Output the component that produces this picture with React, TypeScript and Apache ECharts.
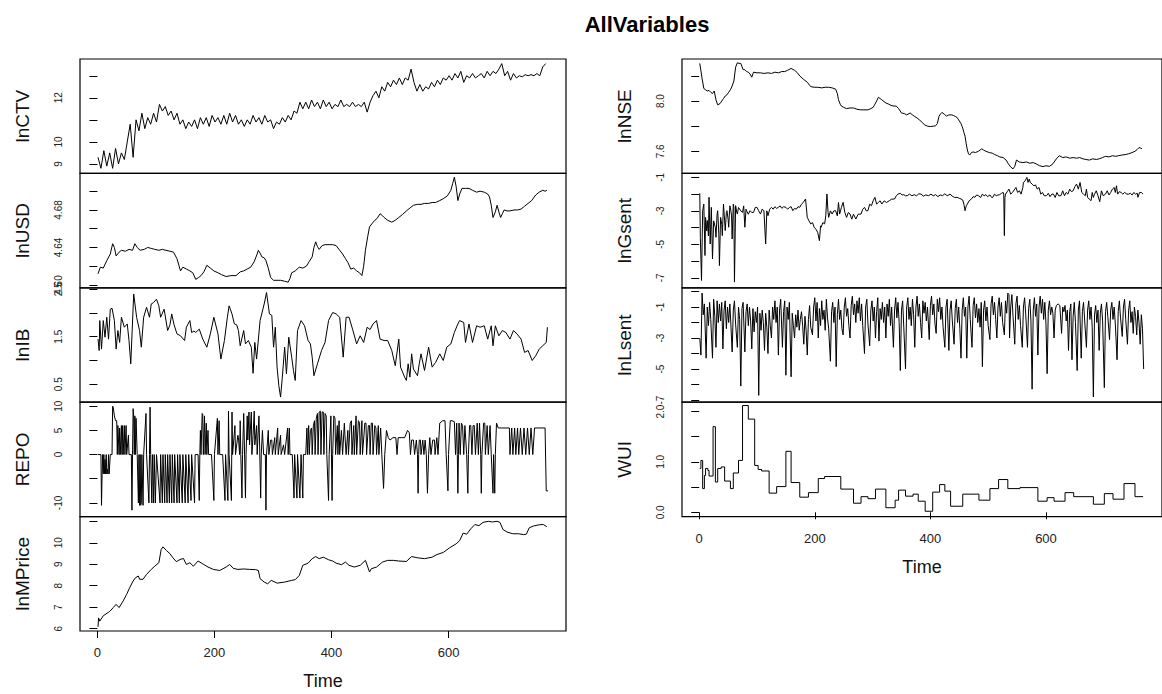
import React, { useEffect, useRef } from "react";
import * as echarts from "echarts";

const FONT = "'Liberation Sans', Arial, Helvetica, sans-serif";
const X_TICKS = [0, 200, 400, 600];
const X_MIN = -29.76;
const X_MAX = 800.76;

// lnCTV sampled every 5 time units starting at t = 1
const lnCTVValues = [
  9.3, 8.8, 9.6, 8.9, 9.5, 8.8, 9.7, 9.0, 9.5, 9.2,
  10.0, 10.8, 9.3, 11.0, 10.5, 11.3, 10.6, 11.1, 10.8, 11.3,
  10.9, 11.7, 11.4, 11.6, 11.2, 11.4, 11.0, 11.3, 10.8, 11.0,
  10.6, 10.9, 10.7, 11.0, 10.6, 11.1, 10.8, 11.1, 10.7, 11.2,
  10.9, 11.1, 10.8, 11.2, 10.8, 11.3, 10.9, 11.2, 10.8, 11.0,
  10.7, 11.0, 10.8, 11.2, 10.9, 11.1, 10.8, 11.2, 10.9, 11.0,
  10.6, 10.9, 10.8, 11.1, 10.9, 11.2, 11.0, 11.4, 11.3, 11.8,
  11.5, 11.8, 11.5, 11.9, 11.6, 11.8, 11.5, 11.9, 11.6, 11.8,
  11.5, 11.7, 11.6, 11.9, 11.6, 11.7, 11.6, 11.8, 11.6, 11.7,
  11.6, 11.8, 11.35, 11.8, 12.1, 12.3, 12.0, 12.5, 12.3, 12.7,
  12.5, 12.8, 12.6, 12.9, 12.6, 12.9, 12.8, 13.3, 12.7, 12.3,
  12.6, 12.3, 12.5, 12.4, 12.7, 12.5, 12.8, 12.6, 12.9, 12.8,
  13.0, 12.8, 13.1, 12.9, 13.2, 12.7, 13.0, 12.9, 13.1, 12.9,
  13.0, 13.1, 12.9, 13.2, 13.0, 13.2, 13.1, 13.3, 13.55, 13.0,
  13.2, 12.8, 13.1, 12.9, 13.0, 12.95, 13.05, 13.0, 13.05, 13.0,
  13.1, 13.0, 13.4, 13.55,
];
const lnCTVStart = 1;
const lnCTVStep = 5;

const lnUSD: [number, number][] = [
  [1, 4.612], [5, 4.619], [10, 4.618], [16, 4.626], [22, 4.633], [26, 4.644], [29, 4.640], [32, 4.631],
  [37, 4.635], [41, 4.637], [48, 4.636], [54, 4.638], [60, 4.637], [64, 4.644], [68, 4.640], [73, 4.637],
  [80, 4.638], [86, 4.640], [92, 4.639], [98, 4.638], [105, 4.637], [111, 4.638], [117, 4.637], [124, 4.636],
  [130, 4.635], [136, 4.628], [142, 4.615], [146, 4.619], [152, 4.617], [158, 4.615], [163, 4.613], [168, 4.606],
  [173, 4.608], [177, 4.610], [182, 4.614], [187, 4.621], [193, 4.618], [199, 4.615], [206, 4.613], [212, 4.611],
  [220, 4.609], [228, 4.610], [237, 4.610], [244, 4.614], [250, 4.615], [256, 4.617], [262, 4.619], [268, 4.625],
  [273, 4.633], [275, 4.637], [278, 4.634], [281, 4.630], [285, 4.629], [288, 4.626], [292, 4.618], [296, 4.608],
  [301, 4.605], [307, 4.605], [313, 4.605], [320, 4.604], [326, 4.603], [329, 4.607], [332, 4.613], [338, 4.615],
  [345, 4.619], [351, 4.618], [357, 4.620], [362, 4.625], [367, 4.630], [370, 4.640], [373, 4.646], [376, 4.641],
  [379, 4.638], [384, 4.642], [389, 4.643], [396, 4.643], [402, 4.643], [408, 4.642], [414, 4.637], [419, 4.633],
  [424, 4.628], [428, 4.624], [433, 4.617], [438, 4.618], [443, 4.615], [448, 4.613], [452, 4.610], [455, 4.620],
  [458, 4.637], [462, 4.652], [465, 4.662], [470, 4.666], [474, 4.669], [478, 4.671], [483, 4.676], [487, 4.674],
  [490, 4.672], [496, 4.669], [503, 4.667], [509, 4.669], [515, 4.672], [521, 4.675], [528, 4.679], [534, 4.682],
  [540, 4.685], [547, 4.686], [553, 4.686], [559, 4.687], [566, 4.687], [572, 4.688], [578, 4.688], [585, 4.690],
  [591, 4.692], [598, 4.695], [604, 4.701], [607, 4.708], [610, 4.715], [613, 4.705], [616, 4.690], [619, 4.697],
  [623, 4.703], [629, 4.703], [635, 4.703], [641, 4.701], [648, 4.699], [654, 4.700], [661, 4.699], [667, 4.697],
  [670, 4.694], [673, 4.685], [676, 4.672], [680, 4.678], [683, 4.685], [686, 4.678], [689, 4.672], [692, 4.676],
  [695, 4.680], [700, 4.679], [705, 4.679], [712, 4.680], [718, 4.680], [724, 4.681], [730, 4.684], [736, 4.687],
  [742, 4.690], [749, 4.696], [755, 4.699], [761, 4.701], [765, 4.700], [768, 4.701],
];

const lnIB: [number, number][] = [
  [1, 1.45], [3, 1.21], [4, 1.84], [7, 1.24], [10, 1.84], [13, 1.49], [16, 1.91], [19, 1.45], [22, 2.08],
  [25, 2.1], [29, 1.84], [32, 1.24], [35, 1.63], [38, 1.38], [41, 1.91], [46, 1.70], [51, 1.77], [54, 1.42],
  [57, 0.93], [62, 2.40], [67, 1.91], [72, 1.63], [75, 1.28], [79, 1.91], [84, 2.12], [89, 1.91], [92, 2.19],
  [96, 2.22], [101, 2.29], [105, 2.15], [108, 1.91], [114, 2.08], [120, 1.63], [124, 1.75], [127, 1.98],
  [131, 1.75], [136, 1.56], [142, 1.52], [149, 1.42], [152, 1.70], [158, 1.84], [161, 1.59], [165, 1.62],
  [168, 1.59], [174, 1.66], [180, 1.45], [187, 1.28], [193, 1.56], [199, 1.91], [206, 1.56], [211, 1.03],
  [217, 1.42], [222, 1.90], [225, 2.15], [230, 1.98], [234, 1.77], [238, 1.75], [241, 1.63], [244, 1.31],
  [250, 1.63], [253, 1.35], [258, 1.42], [263, 1.28], [266, 0.73], [269, 1.38], [272, 1.03], [278, 1.84],
  [285, 2.19], [289, 2.43], [294, 1.98], [298, 1.95], [301, 1.28], [304, 1.70], [307, 0.86], [310, 0.47],
  [313, 0.23], [316, 0.65], [320, 1.28], [323, 0.72], [327, 1.49], [332, 1.07], [335, 0.79], [338, 0.58],
  [342, 1.63], [348, 1.84], [354, 1.73], [360, 1.42], [364, 1.35], [367, 1.07], [370, 0.68], [376, 0.93],
  [383, 1.21], [389, 1.38], [395, 1.84], [402, 2.01], [408, 1.98], [414, 1.91], [420, 1.07], [425, 1.91],
  [430, 1.91], [436, 1.66], [443, 1.35], [449, 1.52], [455, 1.38], [461, 1.70], [466, 1.65], [471, 1.77],
  [477, 1.84], [483, 1.45], [490, 1.42], [496, 1.42], [503, 1.21], [509, 0.89], [515, 1.45], [518, 0.86],
  [525, 0.65], [528, 0.58], [531, 0.93], [534, 0.65], [537, 1.14], [540, 0.82], [547, 0.68], [550, 0.93],
  [553, 1.14], [559, 0.79], [566, 1.28], [572, 0.86], [578, 0.96], [585, 1.14], [591, 1.0], [597, 1.28],
  [604, 1.35], [610, 1.59], [616, 1.77], [619, 1.84], [626, 1.80], [629, 1.38], [635, 1.77], [641, 1.38],
  [648, 1.73], [654, 1.70], [661, 1.73], [667, 1.45], [673, 1.73], [676, 1.31], [680, 1.73], [686, 1.52],
  [692, 1.63], [698, 1.59], [705, 1.45], [711, 1.63], [717, 1.56], [724, 1.45], [730, 1.17], [736, 1.21],
  [743, 1.00], [749, 1.10], [755, 1.24], [761, 1.31], [767, 1.38], [769, 1.70],
];

const repo: [number, number][] = [
  [1, 0], [6, 0], [7, -10.5], [8, -4], [9, 0], [10, -4], [11, 0], [12, -4], [13, -1], [14, -4], [15, 0],
  [16, -4], [17, -3], [18, -4], [19, 0], [20, -4], [21, -4], [22, 0], [25, 0], [26, 10], [27, 9.8], [29, 8],
  [31, 7], [33, 7], [34, 0], [35, 6], [36, 6], [37, 0], [38, 5.5], [39, 0], [41, 6], [42, 0], [43, 6], [44, 0],
  [46, 6], [47, 0], [49, 6], [50, 0], [53, 4], [54, 0], [58, 0], [59, -11.5], [60, 0], [61, 9.5], [62, 8],
  [63, 0], [64, 8], [65, 0], [66, 7.5], [67, 7.5], [68, 0], [70, -10], [71, 0], [72, -10.5], [73, 0],
  [74, -10.5], [75, -10], [76, 0], [78, -10.5], [79, 0], [83, 8.5], [84, 0], [88, -10], [89, 0], [90, 9.8],
  [91, 0], [93, -10], [94, 0], [96, -10], [97, 0], [99, -10], [100, -10], [101, 0], [107, -10], [108, 0],
  [111, -10], [112, 0], [115, -10], [116, 0], [119, -10], [120, 0], [123, -10], [124, 0], [127, -10], [128, 0],
  [131, -10], [132, 0], [136, -10], [137, 0], [140, -10], [141, 0], [145, -10], [146, 0], [150, -10], [151, 0],
  [155, -10], [156, 0], [160, -9.5], [161, 0], [166, -10], [167, 0], [172, 0], [174, -9.5], [175, 0], [176, 5],
  [177, 0], [179, 8.5], [180, 8.3], [181, 0], [183, 8], [184, 0], [186, 6.5], [187, 0], [189, 5], [190, 0],
  [195, 0], [199, -9.5], [200, 0], [205, 7.5], [206, 0], [208, 7], [209, 0], [214, 0], [218, -9.5], [219, 0],
  [223, -9.5], [224, 9], [225, 0], [229, -9.5], [230, 8.8], [231, 0], [235, 6], [236, 0], [240, 4], [241, 3.5],
  [243, 0], [244, 7], [245, 0], [247, -9], [248, 0], [250, 8.5], [251, 3], [253, -9], [254, 0], [256, 8],
  [257, 3], [259, 8.8], [260, 2], [263, 8.8], [264, 0], [266, 4], [268, 9], [269, 2], [272, 6], [273, 0],
  [276, 8], [277, 3], [279, -9], [280, 0], [282, 5], [284, 0], [287, 0], [288, -11.5], [289, 0], [292, 5],
  [293, 0], [296, 3], [298, 3], [299, 0], [303, 3.5], [304, 0], [308, 5.5], [309, 0], [313, 4], [314, 0],
  [318, 2], [320, 0], [325, 5.5], [326, 0], [328, 5.5], [329, 0], [333, 0], [336, -9], [337, 0], [341, -9],
  [342, 0], [346, -9], [347, -9], [348, 0], [351, -9], [352, 0], [356, 0], [358, 5.5], [359, 0], [361, 6],
  [362, 0], [364, 5], [366, 5.5], [367, 0], [369, 6], [371, 7], [372, 0], [374, 7.5], [376, 8.5], [377, 0],
  [379, 8.8], [381, 9], [382, 0], [384, 8.8], [386, 8.8], [387, 0], [389, 8.5], [391, 8], [392, 0], [395, -9.5],
  [396, 0], [399, 8], [401, -9.5], [402, 0], [404, 8], [406, 7.5], [407, 0], [410, 6], [411, 0], [413, 7],
  [414, 0], [417, 5], [419, 0], [422, 6.5], [423, 4], [425, 0], [428, 5], [429, 0], [432, 6.5], [434, 7],
  [435, 0], [438, 6], [439, 0], [442, 8], [443, 0], [446, 7], [448, 6.5], [449, 0], [452, 7], [453, 0],
  [457, 6.5], [459, 6.5], [460, 0], [463, 6], [465, 6], [466, 0], [468, 6.5], [470, 6.5], [471, 0], [474, 6],
  [476, 5.5], [477, 0], [480, 6], [481, 0], [484, 5.5], [485, 5.5], [486, 0], [489, -7], [490, -7], [491, 0],
  [494, 5], [497, 3.5], [500, 3], [505, 3.5], [510, 3.5], [512, 0], [514, 3.5], [520, 3.5], [525, 3.5],
  [530, 5], [533, 4.5], [535, 0], [537, 3], [540, 3], [542, 0], [545, 3], [547, 0], [548, -8], [549, 0],
  [550, 3], [552, 3], [553, 0], [556, 3], [558, 0], [560, 3], [562, 0], [564, -8], [565, -8], [566, 0],
  [568, 3.5], [570, 0], [573, 3], [576, 3], [577, 0], [580, 3.5], [582, 0], [585, 6.5], [590, 7], [594, 7],
  [596, 0], [599, -7.5], [600, 0], [603, 7], [606, 7], [610, 6.8], [612, 0], [614, 6.5], [615, 0], [616, -8],
  [617, 0], [618, 6.5], [620, 0], [622, 6.5], [624, 6], [626, 0], [628, 6], [631, 0], [633, -8], [634, 0],
  [636, 6], [638, 6], [640, 0], [642, 6], [644, 6], [646, 0], [649, 6.5], [651, 0], [653, 6.5], [655, 0],
  [656, -8], [657, 0], [660, 6.5], [662, 6.5], [663, 0], [666, 6], [668, 0], [671, 6], [673, 0], [676, -8],
  [677, 0], [679, -8], [680, 0], [682, 6.5], [685, 5.5], [690, 5.5], [695, 5.5], [700, 5.5], [704, 5.5],
  [705, 0], [708, 5.5], [710, 0], [713, 5.5], [715, 0], [718, 5.5], [720, 0], [723, 5.5], [726, 0], [729, 5.5],
  [732, 0], [735, 5.5], [738, 0], [741, 5.5], [744, 0], [747, 5.5], [752, 5.5], [758, 5.5], [765, 5.5],
  [767, -7.5], [770, -7.5],
];

const lnMPrice: [number, number][] = [
  [1, 6.08], [2, 6.5], [4, 6.35], [10, 6.6], [21, 6.8], [27, 6.98], [32, 7.13], [37, 6.98], [44, 7.29],
  [50, 7.6], [55, 7.9], [61, 8.22], [65, 8.37], [70, 8.45], [72, 8.3], [78, 8.3], [84, 8.53], [92, 8.76],
  [98, 8.91], [105, 9.07], [109, 9.69], [112, 9.81], [118, 9.64], [124, 9.49], [129, 9.3], [135, 9.12],
  [141, 9.22], [147, 9.27], [152, 8.99], [158, 9.07], [164, 8.91], [172, 9.15], [181, 9.0], [189, 8.87],
  [198, 8.76], [209, 8.71], [220, 8.87], [226, 8.99], [232, 8.81], [240, 8.76], [250, 8.78], [260, 8.76],
  [270, 8.75], [275, 8.71], [278, 8.33], [285, 8.17], [291, 8.09], [297, 8.25], [307, 8.12], [320, 8.17],
  [332, 8.25], [338, 8.28], [345, 8.48], [351, 8.95], [360, 9.05], [367, 9.26], [373, 9.36], [379, 9.26],
  [386, 9.33], [395, 9.21], [402, 9.15], [408, 9.05], [417, 8.98], [424, 9.1], [430, 8.95], [439, 8.87],
  [449, 8.95], [458, 9.18], [465, 8.64], [468, 8.79], [477, 8.87], [487, 9.1], [496, 9.18], [506, 9.18],
  [515, 9.15], [528, 9.13], [537, 9.36], [547, 9.3], [559, 9.26], [572, 9.33], [580, 9.45], [591, 9.55],
  [602, 9.77], [613, 9.95], [619, 10.1], [625, 10.45], [631, 10.4], [638, 10.65], [645, 10.85], [652, 10.8],
  [659, 10.95], [668, 11.0], [675, 10.97], [683, 11.0], [688, 10.95], [693, 10.62], [700, 10.5], [710, 10.42],
  [720, 10.42], [728, 10.38], [733, 10.4], [738, 10.7], [745, 10.78], [755, 10.84], [762, 10.85], [768, 10.75],
];

const lnNSE: [number, number][] = [
  [1, 8.30], [3, 8.24], [5, 8.18], [8, 8.10], [11, 8.09], [14, 8.08], [17, 8.085], [20, 8.07], [23, 8.06],
  [26, 8.08], [29, 8.01], [32, 7.97], [36, 7.98], [39, 8.0], [42, 8.02], [45, 8.04], [48, 8.05], [51, 8.07],
  [54, 8.09], [57, 8.12], [60, 8.16], [63, 8.27], [66, 8.305], [69, 8.30], [72, 8.30], [76, 8.25], [79, 8.25],
  [82, 8.235], [85, 8.23], [88, 8.215], [91, 8.19], [94, 8.23], [100, 8.225], [106, 8.225], [112, 8.22],
  [119, 8.225], [125, 8.22], [131, 8.23], [137, 8.225], [143, 8.235], [148, 8.235], [153, 8.245], [159, 8.26],
  [165, 8.245], [170, 8.225], [174, 8.20], [180, 8.175], [187, 8.15], [193, 8.115], [199, 8.11], [205, 8.11],
  [212, 8.105], [218, 8.11], [224, 8.11], [230, 8.105], [236, 8.095], [239, 8.06], [241, 8.01], [244, 7.975],
  [246, 7.96], [250, 7.95], [255, 7.94], [261, 7.945], [267, 7.945], [273, 7.935], [279, 7.93], [285, 7.93],
  [292, 7.93], [297, 7.94], [301, 7.95], [304, 7.975], [307, 8.0], [310, 8.03], [313, 8.02], [316, 8.01],
  [320, 7.995], [323, 7.985], [328, 7.975], [332, 7.965], [337, 7.96], [341, 7.96], [345, 7.94], [350, 7.905],
  [355, 7.9], [359, 7.89], [365, 7.905], [369, 7.89], [372, 7.88], [377, 7.865], [381, 7.85], [386, 7.83],
  [390, 7.81], [395, 7.80], [400, 7.797], [405, 7.8], [409, 7.803], [412, 7.82], [415, 7.88], [418, 7.9],
  [420, 7.91], [424, 7.895], [428, 7.88], [432, 7.89], [437, 7.89], [440, 7.885], [443, 7.878], [446, 7.87],
  [449, 7.85], [453, 7.82], [456, 7.785], [458, 7.75], [460, 7.72], [462, 7.66], [464, 7.61], [466, 7.58],
  [468, 7.57], [471, 7.59], [474, 7.595], [478, 7.59], [483, 7.6], [486, 7.61], [489, 7.62], [492, 7.61],
  [496, 7.6], [502, 7.59], [507, 7.585], [511, 7.575], [516, 7.565], [520, 7.555], [526, 7.55], [531, 7.53],
  [535, 7.5], [539, 7.475], [543, 7.46], [546, 7.48], [549, 7.53], [554, 7.515], [560, 7.51], [566, 7.515],
  [572, 7.505], [578, 7.51], [583, 7.5], [589, 7.485], [595, 7.478], [600, 7.485], [606, 7.48], [612, 7.5],
  [618, 7.54], [623, 7.565], [629, 7.55], [635, 7.555], [641, 7.545], [647, 7.55], [653, 7.545], [658, 7.55],
  [664, 7.54], [669, 7.535], [675, 7.53], [681, 7.54], [687, 7.535], [692, 7.54], [698, 7.55], [703, 7.56],
  [709, 7.555], [715, 7.565], [720, 7.56], [726, 7.565], [731, 7.57], [737, 7.574], [743, 7.58], [749, 7.59],
  [754, 7.6], [758, 7.615], [761, 7.63], [764, 7.625], [766, 7.62],
];

const lnGsent: [number, number][] = [
  [1, -1.95], [2, -4.6], [4, -7.16], [6, -3.0], [8, -2.6], [10, -5.67], [11, -3.39], [13, -4.2], [14, -3.58],
  [16, -4.5], [17, -2.19], [19, -4.98], [21, -2.79], [23, -5.87], [25, -3.6], [26, -3.58], [28, -4.0],
  [29, -4.58], [31, -3.2], [32, -2.99], [34, -4.4], [35, -6.27], [37, -3.39], [39, -3.8], [40, -4.48],
  [42, -2.59], [44, -3.6], [45, -4.18], [47, -3.1], [48, -2.99], [50, -3.5], [51, -3.98], [53, -2.7],
  [54, -2.79], [56, -3.3], [57, -4.68], [59, -2.6], [60, -2.79], [61, -7.26], [63, -2.69], [65, -3.1],
  [66, -3.19], [68, -2.8], [69, -2.79], [72, -3.0], [75, -3.09], [77, -2.7], [79, -3.98], [81, -2.9],
  [82, -2.99], [85, -3.2], [88, -2.99], [91, -3.1], [94, -3.09], [97, -2.8], [100, -2.79], [103, -3.0],
  [106, -3.19], [109, -2.9], [112, -2.99], [115, -4.98], [117, -3.0], [119, -3.29], [122, -2.9], [125, -2.79],
  [128, -2.9], [131, -2.75], [134, -2.85], [137, -2.79], [140, -2.7], [143, -2.85], [146, -2.75], [150, -2.79],
  [153, -2.9], [156, -2.8], [159, -2.75], [162, -2.99], [165, -2.85], [168, -2.9], [171, -2.75], [174, -2.79],
  [177, -2.6], [180, -2.5], [184, -2.29], [187, -3.39], [190, -3.6], [193, -3.78], [196, -3.7], [199, -3.98],
  [202, -4.1], [205, -4.28], [208, -4.78], [210, -3.9], [211, -3.98], [214, -3.7], [217, -3.78], [219, -3.3],
  [221, -1.99], [223, -3.1], [224, -3.39], [227, -3.0], [230, -3.19], [233, -3.0], [236, -2.99], [239, -3.3],
  [241, -2.5], [243, -3.19], [246, -2.8], [249, -2.49], [252, -3.09], [255, -3.39], [258, -3.1], [261, -3.19],
  [264, -3.5], [267, -3.2], [271, -3.49], [275, -3.2], [280, -3.19], [283, -2.9], [286, -2.79], [289, -3.0],
  [292, -2.99], [295, -2.6], [298, -2.69], [301, -2.4], [304, -2.19], [307, -2.6], [310, -2.49], [313, -2.4],
  [316, -2.59], [320, -2.4], [324, -2.5], [329, -2.39], [333, -2.3], [338, -2.29], [341, -2.1], [344, -2.0],
  [348, -1.95], [351, -2.05], [354, -2.03], [357, -2.1], [360, -2.09], [364, -2.0], [368, -2.1], [372, -2.03],
  [376, -2.1], [380, -1.98], [384, -2.0], [388, -2.12], [392, -2.05], [397, -2.09], [401, -2.0], [405, -2.1],
  [409, -2.03], [413, -2.15], [417, -2.05], [421, -2.09], [425, -1.98], [429, -2.1], [434, -2.0], [438, -2.12],
  [442, -2.2], [446, -2.19], [450, -2.25], [453, -2.29], [456, -2.35], [458, -2.6], [460, -2.99], [462, -2.7],
  [464, -2.59], [467, -2.4], [471, -2.29], [474, -2.15], [477, -2.19], [480, -2.05], [483, -2.09], [487, -2.2],
  [490, -2.0], [493, -2.1], [496, -2.03], [499, -2.15], [503, -2.05], [506, -2.2], [508, -2.19], [511, -2.0],
  [514, -2.1], [517, -2.05], [520, -2.03], [523, -1.95], [526, -1.9], [527, -2.0], [528, -4.48], [529, -2.2],
  [530, -2.0], [533, -1.85], [536, -1.7], [539, -2.0], [542, -1.9], [545, -1.75], [548, -1.6], [551, -1.9],
  [554, -1.8], [557, -2.0], [560, -1.6], [561, -1.3], [564, -1.2], [567, -1.0], [569, -1.3], [571, -1.1],
  [573, -1.3], [576, -1.4], [579, -1.5], [582, -1.45], [585, -1.7], [588, -1.6], [591, -2.0], [594, -1.9],
  [597, -2.1], [601, -2.09], [604, -1.95], [607, -2.15], [610, -2.0], [613, -2.0], [616, -2.2], [619, -1.9],
  [622, -2.1], [626, -2.09], [629, -1.8], [632, -2.1], [635, -1.9], [638, -2.0], [641, -1.7], [644, -1.85],
  [647, -1.8], [650, -1.55], [653, -1.4], [656, -1.7], [659, -1.3], [662, -1.9], [665, -2.0], [668, -2.1],
  [670, -1.7], [672, -2.19], [675, -2.3], [678, -2.39], [680, -1.9], [682, -2.2], [684, -2.0], [687, -1.8],
  [690, -2.1], [693, -2.45], [696, -1.8], [699, -2.1], [703, -2.0], [706, -1.8], [709, -2.05], [712, -1.9],
  [715, -1.7], [718, -1.6], [720, -1.9], [722, -1.5], [724, -2.0], [727, -1.85], [730, -1.9], [733, -2.0],
  [736, -1.9], [740, -2.0], [743, -2.0], [746, -1.95], [749, -2.05], [752, -1.9], [755, -2.0], [758, -1.95],
  [759, -2.19], [762, -1.9], [765, -1.9], [768, -2.0],
];

const lnLsent: [number, number][] = [
  [1, -3.0], [3, -4.1], [5, -0.1], [7, -1.5], [9, -0.8], [12, -4.3], [14, -1.0], [16, -2.2], [18, -0.7],
  [20, -1.8], [23, -4.3], [25, -0.5], [27, -1.6], [29, -3.6], [31, -0.6], [33, -2.0], [35, -0.8], [37, -1.9],
  [39, -0.7], [41, -3.7], [43, -1.2], [45, -0.6], [47, -2.4], [49, -1.0], [51, -2.0], [53, -0.8], [55, -2.3],
  [57, -3.9], [59, -1.2], [61, -0.6], [63, -2.1], [66, -3.6], [68, -1.0], [70, -1.8], [72, -6.1], [74, -1.1],
  [76, -0.7], [79, -3.9], [81, -1.3], [83, -0.8], [85, -2.2], [87, -1.0], [89, -1.9], [91, -3.7], [93, -1.1],
  [95, -2.6], [97, -1.3], [99, -2.0], [101, -1.0], [103, -6.7], [105, -1.4], [107, -2.5], [109, -1.2],
  [111, -2.0], [113, -3.8], [115, -1.4], [117, -2.3], [119, -4.0], [121, -1.2], [123, -2.2], [125, -3.0],
  [127, -1.0], [129, -1.8], [131, -0.6], [133, -2.0], [135, -1.0], [137, -4.1], [139, -1.2], [141, -0.5],
  [144, -3.6], [146, -1.3], [148, -0.6], [150, -5.4], [152, -1.0], [154, -1.8], [156, -0.7], [159, -5.5],
  [161, -1.4], [163, -2.2], [165, -3.0], [167, -1.5], [169, -2.3], [171, -1.2], [173, -2.5], [175, -1.8],
  [177, -1.3], [179, -2.2], [181, -3.4], [183, -1.6], [185, -2.5], [187, -4.1], [189, -1.8], [191, -0.9],
  [193, -2.3], [196, -2.8], [198, -1.0], [200, -0.4], [202, -1.9], [204, -0.7], [206, -3.0], [208, -1.1],
  [210, -2.2], [212, -0.6], [214, -1.8], [216, -1.2], [218, -2.5], [220, -0.5], [222, -1.7], [224, -2.4],
  [227, -4.5], [229, -1.3], [231, -0.7], [233, -2.0], [235, -1.0], [237, -4.85], [239, -1.5], [241, -0.5],
  [243, -1.8], [245, -1.2], [247, -2.4], [249, -2.8], [251, -1.0], [253, -0.4], [255, -1.6], [257, -1.1],
  [259, -2.2], [261, -3.0], [263, -0.9], [265, -0.3], [267, -1.5], [269, -0.8], [271, -2.0], [273, -0.6],
  [275, -1.4], [277, -0.4], [279, -1.9], [281, -0.8], [283, -2.2], [286, -4.0], [288, -1.0], [290, -0.5],
  [292, -2.1], [295, -3.5], [297, -1.2], [299, -0.6], [301, -1.9], [303, -1.0], [305, -3.0], [307, -1.3],
  [309, -0.4], [311, -3.2], [313, -1.1], [315, -1.8], [317, -0.7], [319, -2.0], [321, -1.0], [323, -3.0],
  [325, -0.8], [327, -1.6], [329, -0.5], [331, -2.2], [333, -1.0], [336, -3.6], [338, -1.2], [340, -0.4],
  [342, -1.7], [344, -0.7], [346, -2.0], [348, -5.1], [350, -1.2], [352, -0.6], [354, -2.3], [357, -5.0],
  [359, -1.0], [361, -0.4], [363, -1.8], [365, -1.0], [367, -2.2], [369, -0.5], [371, -1.5], [373, -3.6],
  [375, -1.0], [377, -0.3], [379, -1.6], [381, -0.8], [383, -2.0], [385, -3.0], [387, -0.6], [389, -1.4],
  [391, -0.7], [393, -1.9], [395, -1.0], [398, -3.1], [400, -0.9], [402, -0.3], [404, -1.5], [406, -0.8],
  [408, -2.1], [410, -2.7], [412, -0.5], [414, -1.3], [416, -0.4], [418, -1.8], [420, -1.0], [422, -2.3],
  [425, -3.6], [427, -1.0], [429, -0.5], [432, -3.8], [434, -1.2], [436, -0.6], [438, -1.9], [441, -3.4],
  [443, -1.1], [445, -0.5], [447, -2.0], [449, -1.0], [451, -2.4], [453, -4.3], [455, -1.2], [457, -0.4],
  [459, -1.6], [461, -1.0], [463, -4.3], [465, -1.0], [467, -0.3], [469, -1.8], [472, -3.6], [474, -0.9],
  [476, -0.4], [478, -1.7], [480, -0.8], [482, -2.0], [484, -1.1], [486, -2.3], [488, -0.7], [490, -4.85],
  [492, -1.2], [494, -0.6], [496, -1.9], [498, -1.0], [500, -2.2], [503, -3.1], [505, -0.8], [507, -0.3],
  [509, -1.5], [511, -0.7], [513, -1.8], [515, -3.0], [517, -1.0], [519, -0.4], [521, -1.6], [523, -0.7],
  [525, -2.0], [528, -2.8], [530, -0.6], [532, -1.4], [534, -0.1], [536, -0.2], [537, -3.0], [539, -1.0],
  [541, -0.2], [543, -1.6], [546, -3.4], [548, -0.8], [550, -0.3], [552, -1.8], [554, -0.9], [556, -2.2],
  [559, -3.6], [561, -1.0], [563, -0.4], [565, -1.5], [568, -3.6], [570, -1.1], [572, -0.5], [574, -1.9],
  [576, -6.3], [578, -1.2], [580, -0.4], [582, -1.6], [584, -0.8], [586, -4.1], [588, -1.0], [590, -0.3],
  [592, -1.4], [594, -0.5], [596, -1.8], [598, -0.7], [600, -2.1], [602, -5.3], [604, -1.2], [606, -0.6],
  [608, -1.5], [610, -1.0], [612, -1.4], [614, -3.0], [616, -1.2], [618, -0.9], [621, -0.8], [624, -0.9],
  [627, -2.7], [629, -1.0], [631, -1.3], [633, -0.9], [635, -1.9], [637, -1.2], [639, -3.8], [641, -1.3],
  [643, -0.8], [645, -4.4], [647, -1.6], [649, -0.7], [651, -2.0], [654, -5.1], [656, -1.2], [658, -0.6],
  [661, -4.3], [663, -1.3], [665, -0.7], [667, -1.9], [670, -3.6], [672, -1.2], [674, -0.6], [676, -1.8],
  [678, -1.0], [680, -2.3], [682, -6.8], [684, -1.5], [686, -0.9], [688, -2.0], [690, -1.2], [692, -3.8],
  [694, -1.4], [696, -0.8], [698, -1.9], [701, -6.2], [703, -1.3], [705, -0.7], [707, -1.6], [710, -3.1],
  [712, -1.2], [714, -0.7], [716, -1.8], [718, -1.0], [720, -2.1], [723, -4.4], [725, -1.3], [727, -0.6],
  [729, -1.7], [732, -2.9], [734, -1.0], [736, -0.5], [738, -1.8], [741, -3.4], [743, -1.2], [745, -0.6],
  [747, -2.0], [749, -1.3], [751, -2.7], [753, -1.0], [755, -1.6], [757, -2.8], [759, -1.2], [761, -2.0],
  [763, -3.4], [765, -1.5], [767, -2.4], [769, -5.0],
];

// WUI is a step series: each pair gives the start time of a new level
const wui: [number, number][] = [
  [1, 0.87], [3, 1.03], [6, 0.47], [9, 0.73], [11, 0.87], [15, 0.83], [17, 0.72], [24, 1.7], [28, 0.6],
  [32, 0.87], [38, 0.9], [44, 0.62], [54, 0.47], [59, 0.78], [68, 1.03], [75, 2.12], [85, 1.85], [96, 0.93],
  [102, 0.85], [108, 0.82], [121, 0.38], [134, 0.51], [150, 1.21], [159, 0.59], [174, 0.3], [189, 0.39],
  [206, 0.67], [217, 0.71], [245, 0.46], [267, 0.18], [280, 0.31], [292, 0.27], [305, 0.46], [323, 0.09],
  [339, 0.24], [345, 0.44], [357, 0.32], [370, 0.36], [379, 0.22], [391, 0.02], [404, 0.4], [416, 0.55],
  [425, 0.42], [435, 0.12], [456, 0.36], [484, 0.24], [503, 0.47], [518, 0.65], [534, 0.47], [555, 0.49],
  [586, 0.22], [602, 0.29], [614, 0.22], [633, 0.39], [648, 0.31], [682, 0.16], [701, 0.37], [716, 0.26],
  [735, 0.57], [754, 0.31], [768, 0.31],
];

type Panel = {
  name: string;
  col: number;
  row: number;
  data: [number, number][];
  min: number;
  max: number;
  ticks: number[];
  labels: number[];
  dec: number;
  step?: boolean;
};

const GRID_TOP = 59;
const GRID_H = 114.4;
const GRID_W = 486;
const COL_LEFT = [80, 682];

export default function App() {
  const ref = useRef<HTMLDivElement>(null);

  useEffect(() => {
    if (!ref.current) return;
    const chart = echarts.init(ref.current, null, { renderer: "svg" });

    const ctvData: [number, number][] = lnCTVValues.map((v, i) => [lnCTVStart + lnCTVStep * i, v]);

    const panels: Panel[] = [
      { name: "lnCTV", col: 0, row: 0, data: ctvData, min: 8.57, max: 13.76, ticks: [9, 10, 11, 12, 13], labels: [9, 10, 12], dec: 0 },
      { name: "lnUSD", col: 0, row: 1, data: lnUSD, min: 4.597, max: 4.719, ticks: [4.6, 4.62, 4.64, 4.66, 4.68, 4.7], labels: [4.6, 4.64, 4.68], dec: 2 },
      { name: "lnIB", col: 0, row: 2, data: lnIB, min: 0.122, max: 2.53, ticks: [0.5, 1, 1.5, 2, 2.5], labels: [0.5, 1.5, 2.5], dec: 1 },
      { name: "REPO", col: 0, row: 3, data: repo, min: -12.83, max: 10.83, ticks: [-10, -5, 0, 5, 10], labels: [-10, 0, 5, 10], dec: 0 },
      { name: "lnMPrice", col: 0, row: 4, data: lnMPrice, min: 5.89, max: 11.22, ticks: [6, 7, 8, 9, 10, 11], labels: [6, 7, 8, 9, 10], dec: 0 },
      { name: "lnNSE", col: 1, row: 0, data: lnNSE, min: 7.424, max: 8.335, ticks: [7.6, 7.8, 8.0, 8.2], labels: [7.6, 8.0], dec: 1 },
      { name: "lnGsent", col: 1, row: 1, data: lnGsent, min: -7.6, max: -0.76, ticks: [-7, -6, -5, -4, -3, -2, -1], labels: [-7, -5, -3, -1], dec: 0 },
      { name: "lnLsent", col: 1, row: 2, data: lnLsent, min: -7.14, max: 0.24, ticks: [-7, -6, -5, -4, -3, -2, -1, 0], labels: [-7, -5, -3, -1], dec: 0 },
      { name: "WUI", col: 1, row: 3, data: wui, min: -0.086, max: 2.186, ticks: [0, 0.5, 1, 1.5, 2], labels: [0, 1, 2], dec: 1, step: true },
    ];

    const isBottom = (p: Panel) => (p.col === 0 && p.row === 4) || (p.col === 1 && p.row === 3);

    const option: any = {
      animation: false,
      backgroundColor: "#ffffff",
      textStyle: { fontFamily: FONT },
      title: {
        text: "AllVariables",
        left: 642,
        top: 8,
        textAlign: "center",
        textStyle: { fontSize: 22, fontWeight: "bold", color: "#000", fontFamily: FONT },
      },
      grid: panels.map((p) => ({
        left: COL_LEFT[p.col],
        top: GRID_TOP + p.row * GRID_H,
        width: GRID_W,
        height: GRID_H,
        show: true,
        borderColor: "#000",
        borderWidth: 1.2,
        backgroundColor: "transparent",
      })),
      xAxis: panels.map((p, i) => {
        const b = isBottom(p);
        return {
          type: "value",
          gridIndex: i,
          min: X_MIN,
          max: X_MAX,
          axisLine: { show: false },
          splitLine: { show: false },
          axisTick: { show: b, length: 7, customValues: X_TICKS, lineStyle: { color: "#000", width: 1 } },
          axisLabel: { show: b, customValues: X_TICKS, fontSize: 13, margin: 15, color: "#222", fontFamily: FONT },
          name: b ? "Time" : "",
          nameLocation: "middle",
          nameGap: 41,
          nameTextStyle: { fontSize: 18, color: "#111", fontFamily: FONT },
        };
      }),
      yAxis: panels.map((p, i) => ({
        type: "value",
        gridIndex: i,
        min: p.min,
        max: p.max,
        axisLine: { show: false },
        splitLine: { show: false },
        axisTick: { show: true, length: 8, customValues: p.ticks, lineStyle: { color: "#000", width: 1 } },
        axisLabel: {
          customValues: p.labels,
          rotate: 90,
          fontSize: 10,
          margin: 17,
          color: "#222",
          fontFamily: FONT,
          formatter: (v: number) => v.toFixed(p.dec),
        },
        name: p.name,
        nameLocation: "middle",
        nameRotate: 90,
        nameGap: 48,
        nameTextStyle: { fontSize: 19, color: "#111", fontFamily: FONT },
      })),
      series: panels.map((p, i) => ({
        type: "line",
        xAxisIndex: i,
        yAxisIndex: i,
        data: p.data,
        showSymbol: false,
        symbol: "none",
        silent: true,
        step: p.step ? "end" : false,
        lineStyle: { color: "#000", width: 1 },
        clip: true,
      })),
    };

    chart.setOption(option);
    return () => chart.dispose();
  }, []);

  return (
    <div
      ref={ref}
      style={{ position: "fixed", left: 0, top: 0, width: 1162, height: 694, background: "#fff" }}
    />
  );
}
